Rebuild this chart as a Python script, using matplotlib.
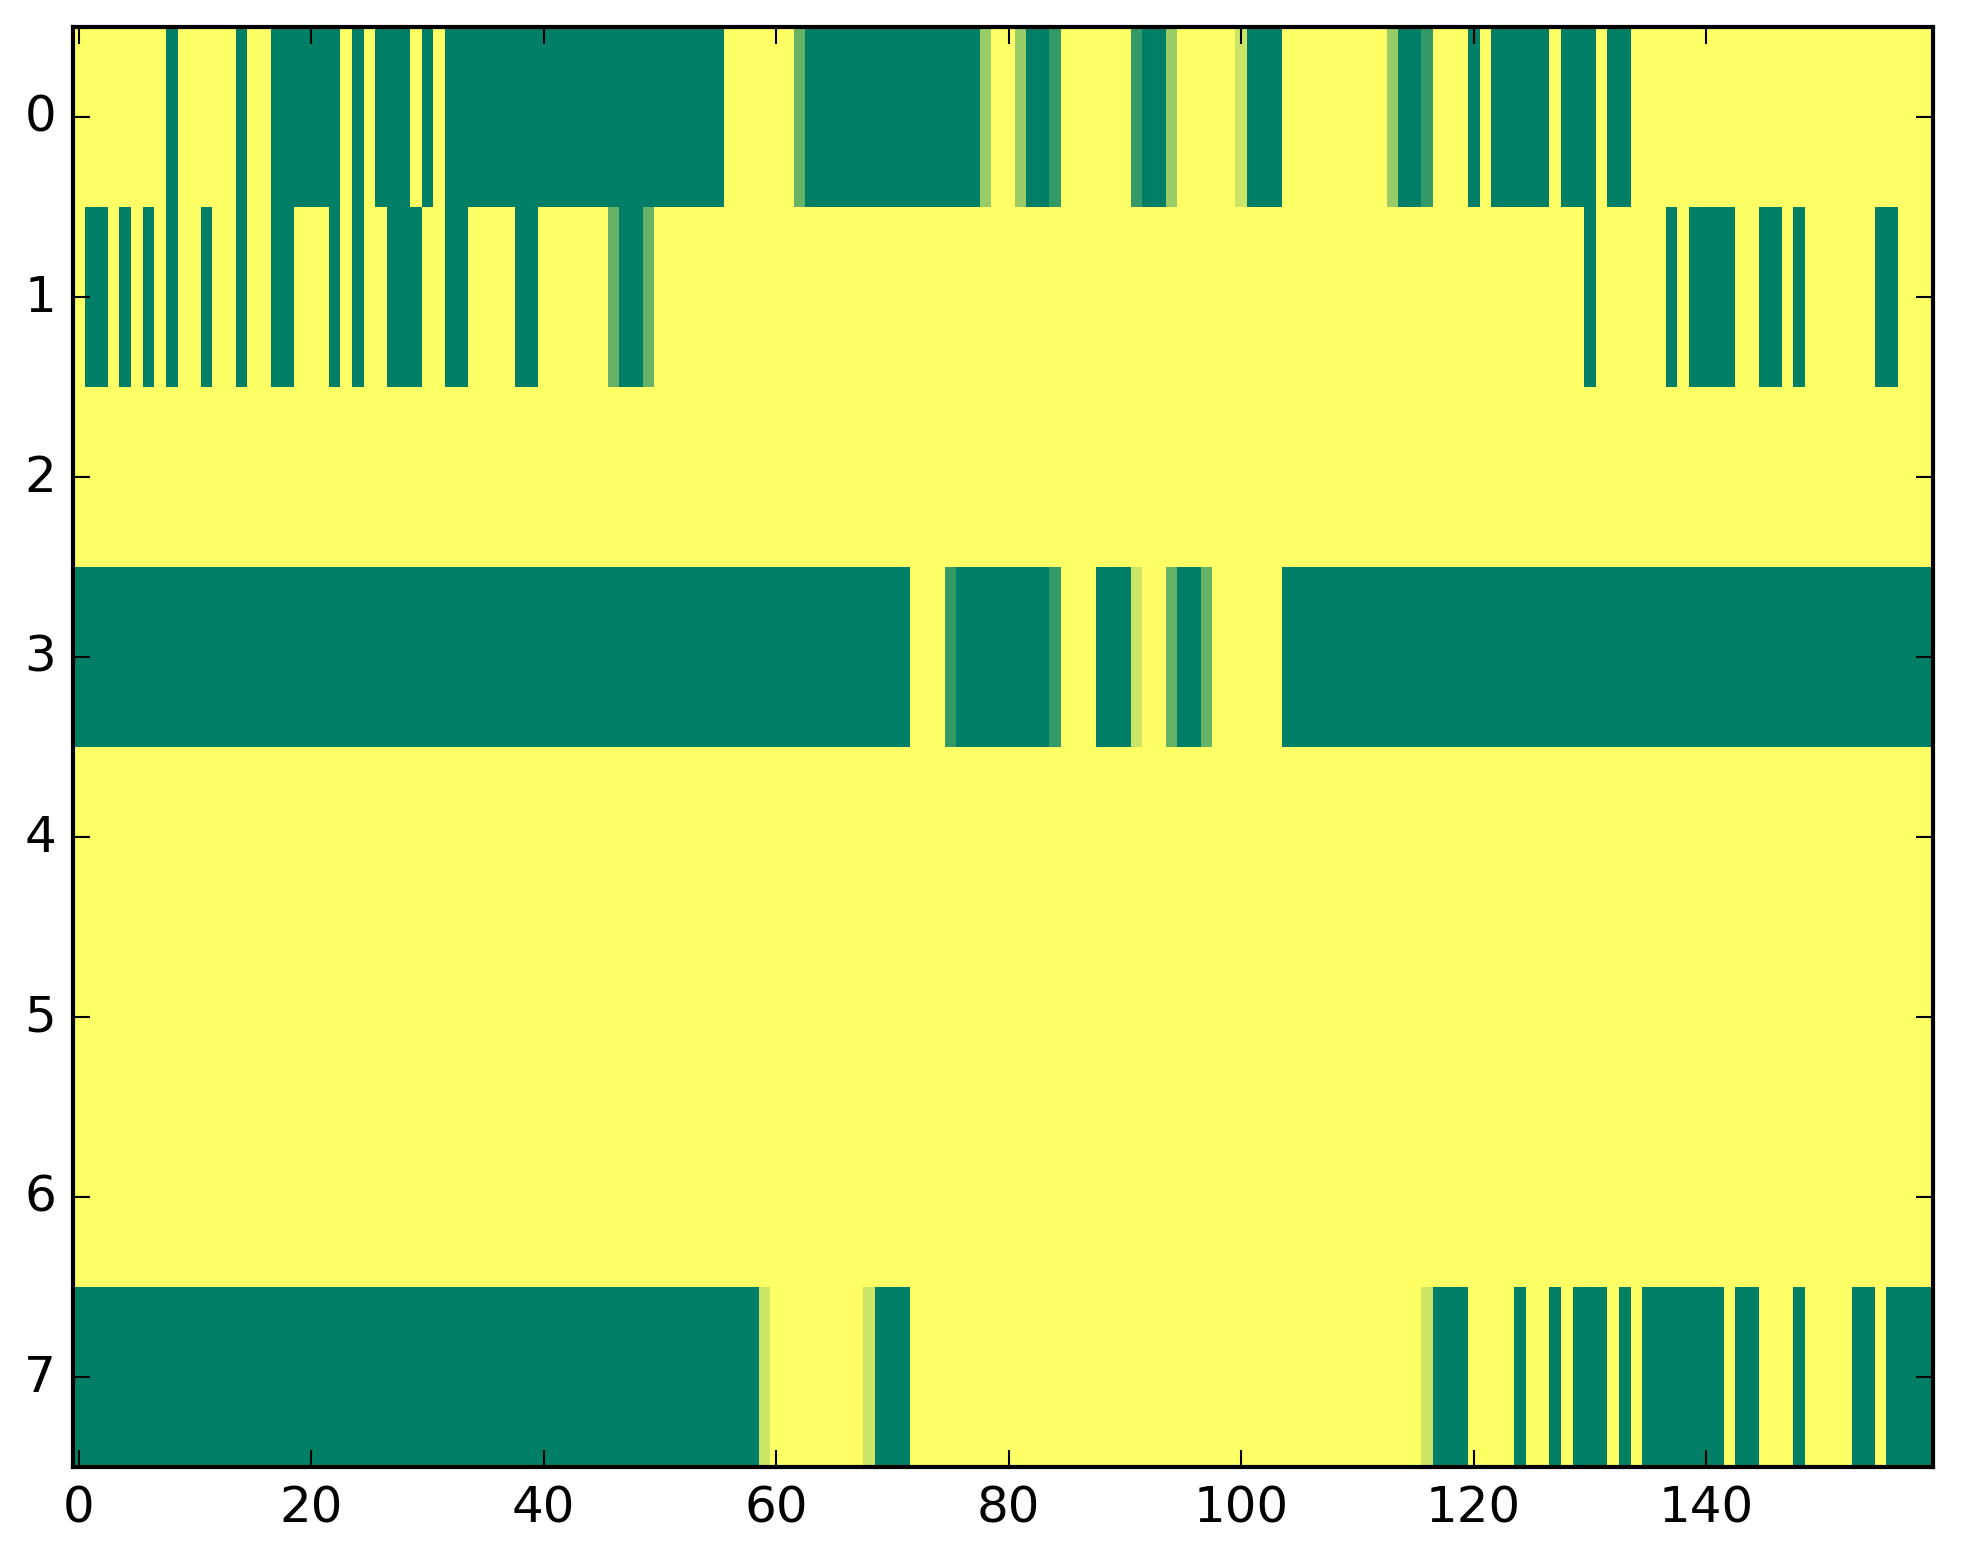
import numpy as np
import matplotlib
matplotlib.use("Agg")
import matplotlib.pyplot as plt

# each row as (value, run length) pairs read left to right, 160 columns total
row0_runs = [(1, 8), (0, 1), (1, 5), (0, 1), (1, 2), (0, 6), (1, 1), (0, 1),
             (1, 1), (0, 3), (1, 1), (0, 1), (1, 1), (0, 24), (1, 6), (0.4, 1),
             (0, 15), (0.6, 1), (1, 2), (0.6, 1), (0, 2), (0.2, 1), (1, 6),
             (0.2, 1), (0, 2), (0.6, 1), (1, 5), (0.8, 1), (0, 3), (1, 9),
             (0.6, 1), (0, 2), (0.2, 1), (1, 3), (0, 1), (1, 1), (0, 5), (1, 1),
             (0, 3), (1, 1), (0, 2), (1, 26)]
row1_runs = [(1, 1), (0, 2), (1, 1), (0, 1), (1, 1), (0, 1), (1, 1), (0, 1),
             (1, 2), (0, 1), (1, 2), (0, 1), (1, 2), (0, 2), (1, 3), (0, 1),
             (1, 1), (0, 1), (1, 2), (0, 3), (1, 2), (0, 2), (1, 4), (0, 2),
             (1, 6), (0.4, 1), (0, 2), (0.4, 1), (1, 80), (0, 1), (1, 6), (0, 1),
             (1, 1), (0, 4), (1, 2), (0, 2), (1, 1), (0, 1), (1, 6), (0, 2), (1, 3)]
row2_runs = [(1, 160)]
row3_runs = [(0, 72), (1, 3), (0.2, 1), (0, 8), (0.2, 1), (1, 3), (0, 3),
             (0.8, 1), (1, 2), (0.4, 1), (0, 2), (0.4, 1), (1, 6), (0, 56)]
row4_runs = [(1, 160)]
row5_runs = [(1, 160)]
row6_runs = [(1, 160)]
row7_runs = [(0, 59), (0.8, 1), (1, 8), (0.8, 1), (0, 3), (1, 44), (0.8, 1),
             (0, 3), (1, 4), (0, 1), (1, 2), (0, 1), (1, 1), (0, 3), (1, 1),
             (0, 1), (1, 1), (0, 7), (1, 1), (0, 2), (1, 3), (0, 1), (1, 4),
             (0, 2), (1, 1), (0, 4)]


def expand(runs):
    values = []
    for v, n in runs:
        values.extend([v] * n)
    return values


rows = [row0_runs, row1_runs, row2_runs, row3_runs,
        row4_runs, row5_runs, row6_runs, row7_runs]
data = np.array([expand(r) for r in rows], dtype=float)

plt.style.use("classic")

W, H, DPI = 1963, 1564, 300
fig = plt.figure(figsize=(W / DPI, H / DPI), dpi=DPI)
ax = fig.add_axes([72.7 / W, (H - 1468) / H, 1860 / W, 1440 / H])
ax.imshow(data, cmap="summer", aspect="auto", interpolation="nearest",
          vmin=0, vmax=1)

plt.savefig("out.png", dpi=DPI)
plt.close()
